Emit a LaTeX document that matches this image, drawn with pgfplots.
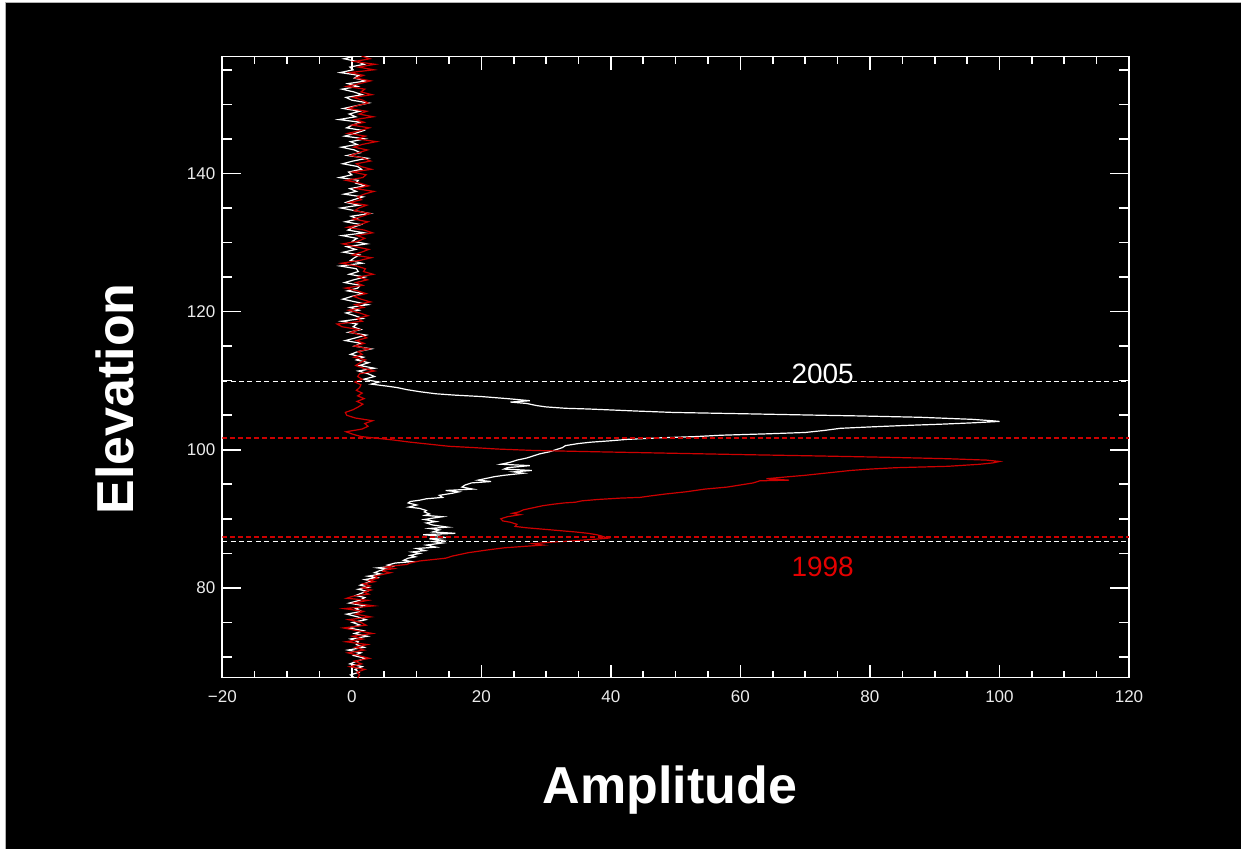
\documentclass[border=0pt]{standalone}
\usepackage{fontspec}
\setmainfont{Liberation Sans}
\usepackage{pgfplots}
\pgfplotsset{compat=1.18}
\usepackage{pgfplotstable}
\definecolor{idlred}{RGB}{205,0,0}
\definecolor{lblred}{RGB}{228,0,0}

\pgfplotstableread[row sep=\\]{
e a\\
157.0 0.5\\ 156.6 -1.2\\ 156.2 0.8\\ 155.8 1.9\\ 155.4 -0.3\\ 155.0 0.2\\ 154.6 -1.8\\ 154.2 1.1\\ 153.8 0.4\\ 153.4 2.2\\
153.0 -0.6\\ 152.6 0.9\\ 152.2 -1.5\\ 151.8 0.3\\ 151.4 1.6\\ 151.0 -0.9\\ 150.6 0.0\\ 150.2 2.6\\ 149.8 0.7\\ 149.4 -1.3\\
149.0 1.2\\ 148.6 -0.4\\ 148.2 0.6\\ 147.8 -2.0\\ 147.4 1.4\\ 147.0 0.1\\ 146.6 -0.8\\ 146.2 1.8\\ 145.8 0.5\\ 145.4 -1.1\\
145.0 2.0\\ 144.6 -0.2\\ 144.2 0.8\\ 143.8 -1.6\\ 143.4 0.4\\ 143.0 1.3\\ 142.6 -0.7\\ 142.2 2.4\\ 141.8 0.2\\ 141.4 -1.4\\
141.0 0.9\\ 140.6 1.5\\ 140.2 -0.5\\ 139.8 0.0\\ 139.4 -1.9\\ 139.0 1.0\\ 138.6 0.6\\ 138.2 2.1\\ 137.8 -0.3\\ 137.4 0.7\\
137.0 -1.2\\ 136.6 1.7\\ 136.2 0.3\\ 135.8 -0.9\\ 135.4 1.1\\ 135.0 -1.7\\ 134.6 0.5\\ 134.2 2.8\\ 133.8 -0.1\\ 133.4 0.9\\
133.0 -1.0\\ 132.6 1.4\\ 132.2 0.2\\ 131.8 -0.6\\ 131.4 1.9\\ 131.0 -1.5\\ 130.6 0.8\\ 130.2 0.1\\ 129.8 2.3\\ 129.4 -0.8\\
129.0 0.6\\ 128.6 -1.3\\ 128.2 1.2\\ 127.8 0.4\\ 127.4 -0.2\\ 127.0 1.6\\ 126.6 -1.8\\ 126.2 0.7\\ 125.8 1.0\\ 125.4 -0.4\\
125.0 2.0\\ 124.6 0.3\\ 124.2 -1.1\\ 123.8 1.3\\ 123.4 0.9\\ 123.0 -0.7\\ 122.6 1.8\\ 122.2 0.0\\ 121.8 -1.4\\ 121.4 0.6\\
121.0 2.5\\ 120.6 -0.3\\ 120.2 1.1\\ 119.8 -0.9\\ 119.4 0.5\\ 119.0 1.7\\ 118.6 -1.6\\ 118.2 0.8\\ 117.8 0.2\\ 117.4 1.4\\
117.0 -0.5\\ 116.6 2.2\\ 116.2 0.6\\ 115.8 -1.0\\ 115.4 1.5\\ 115.0 0.4\\ 114.6 3.0\\ 114.2 0.9\\ 113.8 -0.2\\ 113.4 1.8\\
113.0 0.7\\ 112.6 2.6\\ 112.2 1.2\\ 111.8 3.5\\ 111.4 1.0\\
111.0 2.5\\ 110.6 3.5\\ 110.2 1.8\\ 109.8 4.2\\ 109.5 3.0\\ 109.2 5.5\\ 109.0 7.0\\ 108.7 8.5\\ 108.4 10.5\\ 108.1 13.0\\
107.9 16.0\\ 107.7 20.0\\ 107.4 24.0\\ 107.1 27.5\\ 106.9 24.5\\ 106.7 27.0\\ 106.4 28.5\\ 106.2 30.0\\ 106.0 33.0\\ 105.9 36.5\\
105.6 44.0\\ 105.4 49.6\\ 105.2 61.0\\ 105.0 72.0\\ 104.9 78.0\\ 104.7 87.7\\ 104.4 95.8\\ 104.2 98.8\\ 104.1 100.0\\ 103.9 96.0\\
103.7 91.0\\ 103.5 85.0\\ 103.3 80.0\\ 103.1 75.4\\ 102.8 73.0\\ 102.5 70.0\\ 102.3 64.0\\ 102.1 57.0\\ 101.9 53.0\\ 101.7 47.0\\
101.5 42.5\\ 101.3 40.0\\ 101.1 37.0\\ 100.9 35.0\\ 100.6 33.0\\ 100.3 32.5\\ 100.0 31.5\\ 99.7 30.5\\ 99.4 29.0\\ 99.1 28.0\\
98.8 27.0\\ 98.5 25.5\\ 98.2 24.5\\ 97.9 23.0\\ 97.7 27.5\\ 97.4 24.0\\ 97.2 23.5\\ 97.0 27.8\\ 96.8 25.0\\ 96.6 26.5\\
96.3 23.5\\ 96.1 22.0\\ 95.9 21.0\\ 95.6 19.5\\ 95.4 21.5\\ 95.2 18.5\\ 94.9 17.5\\ 94.6 17.0\\ 94.3 18.7\\ 94.1 14.5\\
93.9 16.5\\ 93.7 15.5\\ 93.4 13.5\\ 93.1 14.0\\ 92.9 11.5\\ 92.7 10.5\\ 92.5 9.0\\ 92.3 8.7\\ 92.0 10.0\\ 91.7 8.8\\
91.5 10.5\\ 91.2 11.5\\ 91.0 11.2\\ 90.7 12.0\\ 90.5 11.3\\ 90.3 14.0\\ 90.1 12.5\\ 89.9 11.2\\ 89.6 13.0\\ 89.4 11.5\\
89.1 12.5\\ 88.8 14.8\\ 88.6 12.0\\ 88.4 13.5\\ 88.1 12.5\\ 87.9 16.0\\ 87.7 11.0\\ 87.5 13.5\\ 87.3 14.4\\ 87.1 12.0\\
86.9 14.0\\ 86.7 12.5\\ 86.5 14.0\\ 86.2 11.5\\ 85.9 13.0\\ 85.7 10.0\\ 85.4 11.3\\ 85.2 9.3\\ 85.0 10.5\\ 84.7 9.0\\
84.5 9.8\\ 84.3 8.7\\ 84.0 8.0\\ 83.8 9.3\\ 83.6 6.7\\ 83.3 5.5\\ 83.1 6.2\\ 82.9 4.0\\ 82.7 5.5\\ 82.5 4.3\\
82.2 3.5\\ 82.0 4.5\\ 81.7 2.5\\ 81.5 3.8\\ 81.2 2.0\\ 81.0 3.0\\ 80.7 2.2\\ 80.4 1.3\\ 80.1 2.6\\ 79.8 1.0\\
79.5 2.3\\ 79.2 1.4\\ 78.9 0.6\\ 78.6 2.0\\
78.2 1.2\\ 77.8 -0.4\\ 77.4 2.0\\ 77.0 0.6\\ 76.6 1.5\\ 76.2 -0.8\\ 75.8 0.9\\ 75.4 2.2\\ 75.0 0.1\\ 74.6 1.3\\
74.2 -0.5\\ 73.8 1.8\\ 73.4 0.4\\ 73.0 2.4\\ 72.6 -0.2\\ 72.2 1.0\\ 71.8 0.7\\ 71.4 1.9\\ 71.0 -0.6\\ 70.6 1.4\\
70.2 0.3\\ 69.8 2.1\\ 69.4 0.8\\ 69.0 -0.3\\ 68.6 1.6\\ 68.2 0.5\\ 67.8 1.1\\ 67.4 -0.2\\ 67.0 0.4\\
}\whitecurve

\pgfplotstableread[row sep=\\]{
e a\\
157.0 1.5\\ 156.6 2.8\\ 156.2 0.4\\ 155.8 3.6\\ 155.4 1.0\\ 155.0 3.4\\ 154.6 -0.3\\ 154.2 1.8\\ 153.8 0.6\\ 153.4 2.9\\
153.0 1.2\\ 152.6 -0.8\\ 152.2 2.0\\ 151.8 1.4\\ 151.4 3.1\\ 151.0 0.2\\ 150.6 1.7\\ 150.2 2.5\\ 149.8 0.8\\ 149.4 -0.5\\
149.0 2.3\\ 148.6 1.1\\ 148.2 3.3\\ 147.8 0.5\\ 147.4 1.9\\ 147.0 0.0\\ 146.6 2.7\\ 146.2 1.3\\ 145.8 -0.6\\ 145.4 2.1\\
145.0 0.9\\ 144.6 3.8\\ 144.2 1.6\\ 143.8 0.3\\ 143.4 2.4\\ 143.0 1.0\\ 142.6 -0.2\\ 142.2 1.8\\ 141.8 2.9\\ 141.4 0.7\\
141.0 1.4\\ 140.6 3.0\\ 140.2 0.1\\ 139.8 2.2\\ 139.4 1.7\\ 139.0 -0.9\\ 138.6 1.2\\ 138.2 2.6\\ 137.8 0.6\\ 137.4 3.4\\
137.0 1.9\\ 136.6 0.9\\ 136.2 1.5\\ 135.8 -0.4\\ 135.4 2.3\\ 135.0 1.1\\ 134.6 0.4\\ 134.2 2.8\\ 133.8 1.6\\ 133.4 0.2\\
133.0 2.5\\ 132.6 1.3\\ 132.2 -0.7\\ 131.8 1.9\\ 131.4 3.2\\ 131.0 0.8\\ 130.6 2.0\\ 130.2 1.0\\ 129.8 -1.4\\ 129.4 0.5\\
129.0 2.6\\ 128.6 1.5\\ 128.2 0.1\\ 127.8 3.0\\ 127.4 1.2\\ 127.0 -1.6\\ 126.6 0.7\\ 126.2 2.1\\ 125.8 1.8\\ 125.4 3.3\\
125.0 1.0\\ 124.6 2.4\\ 124.2 0.6\\ 123.8 1.7\\ 123.4 -1.0\\ 123.0 0.9\\ 122.6 2.2\\ 122.2 0.3\\ 121.8 1.4\\ 121.4 2.9\\
121.0 0.5\\ 120.6 1.8\\ 120.2 -0.5\\ 119.8 1.2\\ 119.4 2.5\\ 119.0 0.8\\ 118.6 1.6\\ 118.2 -2.3\\ 117.8 -1.5\\ 117.4 1.1\\
117.0 -0.2\\ 116.6 1.5\\ 116.2 2.3\\ 115.8 0.7\\ 115.4 1.9\\ 115.0 0.4\\ 114.6 2.7\\ 114.2 1.0\\ 113.8 1.6\\ 113.4 0.3\\
113.0 2.1\\ 112.6 1.3\\ 112.2 0.6\\ 111.8 1.8\\ 111.4 3.5\\ 111.0 1.2\\ 110.6 0.9\\ 110.2 1.6\\ 109.8 0.5\\ 109.4 1.4\\
109.0 1.2\\ 108.6 0.7\\ 108.2 1.6\\ 107.8 0.9\\ 107.4 1.9\\ 107.0 0.8\\ 106.6 1.7\\ 106.2 1.0\\ 105.8 0.2\\ 105.4 -1.0\\
105.0 -0.8\\ 104.6 0.5\\ 104.2 3.2\\ 103.8 2.0\\ 103.4 2.5\\ 103.0 1.6\\ 102.6 -0.9\\ 102.2 0.3\\
101.9 1.5\\ 101.8 2.5\\ 101.6 4.5\\ 101.4 6.5\\ 101.1 9.0\\ 100.8 12.0\\ 100.5 15.0\\ 100.3 19.0\\ 100.1 22.5\\ 99.9 28.0\\
99.7 38.0\\ 99.5 49.0\\ 99.3 60.0\\ 99.1 72.0\\ 98.9 83.0\\ 98.7 92.0\\ 98.5 98.0\\ 98.3 100.0\\ 98.1 99.0\\ 97.9 97.0\\
97.6 92.0\\ 97.4 84.0\\ 97.2 80.0\\ 97.0 77.0\\ 96.8 75.0\\ 96.6 73.0\\ 96.3 70.0\\ 96.1 67.5\\ 95.8 64.0\\ 95.6 67.5\\
95.5 63.0\\ 95.2 62.0\\ 94.9 60.0\\ 94.6 58.0\\ 94.3 54.5\\ 93.9 51.5\\ 93.6 48.5\\ 93.3 46.0\\ 93.1 44.5\\ 93.0 41.5\\
92.8 38.0\\ 92.6 35.5\\ 92.4 34.5\\ 92.3 32.8\\ 92.1 31.0\\ 91.9 29.5\\ 91.6 28.0\\ 91.3 26.5\\ 91.0 25.8\\ 90.8 24.8\\
90.6 26.0\\ 90.3 24.0\\ 90.0 23.0\\ 89.7 23.3\\ 89.5 24.5\\ 89.2 25.5\\ 88.9 25.2\\ 88.7 27.0\\ 88.5 29.5\\ 88.3 32.0\\
88.1 34.5\\ 87.9 36.5\\ 87.7 37.8\\ 87.5 38.6\\ 87.2 39.5\\ 87.0 37.0\\ 86.8 34.0\\ 86.6 30.5\\ 86.4 28.0\\ 86.2 29.5\\
86.0 26.5\\ 85.8 23.5\\ 85.5 21.0\\ 85.3 19.5\\ 85.1 18.0\\ 84.8 16.5\\ 84.6 15.5\\ 84.3 14.5\\ 84.1 12.5\\ 83.9 10.5\\
83.6 9.0\\ 83.4 8.5\\ 83.2 6.5\\ 83.0 5.2\\ 82.8 6.5\\ 82.6 5.0\\ 82.4 4.8\\ 82.2 6.0\\ 82.0 5.0\\ 81.7 3.5\\
81.4 4.0\\ 81.1 2.7\\ 80.9 3.5\\ 80.6 1.8\\ 80.3 2.8\\ 80.0 1.6\\ 79.7 3.0\\ 79.4 1.9\\ 79.1 2.6\\ 78.8 0.2\\
78.5 -0.8\\
78.2 2.5\\ 77.8 0.3\\ 77.4 3.4\\ 77.0 -1.2\\ 76.6 1.8\\ 76.2 0.6\\ 75.8 2.9\\ 75.4 -0.5\\ 75.0 1.4\\ 74.6 2.2\\
74.2 -1.3\\ 73.8 0.9\\ 73.4 3.2\\ 73.0 0.1\\ 72.6 1.7\\ 72.2 -0.9\\ 71.8 2.4\\ 71.4 0.5\\ 71.0 1.9\\ 70.6 -0.6\\
70.2 1.1\\ 69.8 2.7\\ 69.4 0.4\\ 69.0 1.5\\ 68.6 -0.3\\ 68.2 2.0\\ 67.8 0.8\\ 67.4 1.2\\ 67.0 0.9\\
}\redcurve

\begin{document}
\begin{tikzpicture}
\fill[white] (-111.15pt,-85.65pt) rectangle (509.35pt,338.85pt);
\useasboundingbox (-111.15pt,-85.65pt) rectangle (509.35pt,338.85pt);
\fill[black, draw=gray!60, line width=0.5pt] (-108.15pt,-86pt) rectangle (510pt,337.35pt);
\begin{axis}[
  at={(0,0)}, anchor=south west,
  scale only axis, width=453.35pt, height=310.5pt,
  xmin=-20, xmax=120, ymin=67, ymax=156.9,
  xtick={-20,0,20,40,60,80,100,120},
  xticklabels={−20,0,20,40,60,80,100,120},
  ytick={80,100,120,140},
  minor xtick={-15,-10,-5,5,10,15,25,30,35,45,50,55,65,70,75,85,90,95,105,110,115},
  minor ytick={70,75,85,90,95,105,110,115,125,130,135,145,150,155},
  tick align=inside,
  axis line style={white, line width=0.8pt},
  every tick/.style={white, line width=0.8pt},
  major tick length=8pt, minor tick length=4.3pt,
  xtick style={/pgfplots/major tick length=6.5pt, /pgfplots/minor tick length=3.5pt},
  ytick style={/pgfplots/major tick length=9.3pt, /pgfplots/minor tick length=5pt},
  ticklabel style={font=\fontsize{8.5}{10}\selectfont, text=white!92!black},
  xticklabel style={yshift=-3pt},
  /pgf/number format/assume math mode=true,
  xlabel={Amplitude}, ylabel={Elevation},
  label style={font=\bfseries\fontsize{26}{30}\selectfont, text=white},
  xlabel style={at={(axis description cs:0.4938,-0.2018)}, anchor=base},
  ylabel style={at={(axis description cs:-0.1183,0.4488)}, anchor=center},
]
\addplot[white, line width=0.6pt] table[x=a, y=e] {\whitecurve};
\addplot[idlred, line width=0.6pt] table[x=a, y=e] {\redcurve};
\addplot[white, line width=0.6pt, dash pattern=on 2.5pt off 1.7pt] coordinates {(-20,109.85) (120,109.85)};
\addplot[white, line width=0.6pt, dash pattern=on 2.5pt off 1.7pt] coordinates {(-20,86.76) (120,86.76)};
\addplot[idlred, line width=0.75pt, dash pattern=on 2.2pt off 1.8pt] coordinates {(-20,101.72) (120,101.72)};
\addplot[idlred, line width=0.75pt, dash pattern=on 2.2pt off 1.8pt] coordinates {(-20,87.38) (120,87.38)};
\node[text=white, font=\fontsize{14}{17}\selectfont] at (axis cs:72.7,110.95) {2005};
\node[text=lblred, font=\fontsize{14}{17}\selectfont] at (axis cs:72.7,83.0) {1998};
\end{axis}
\end{tikzpicture}
\end{document}
